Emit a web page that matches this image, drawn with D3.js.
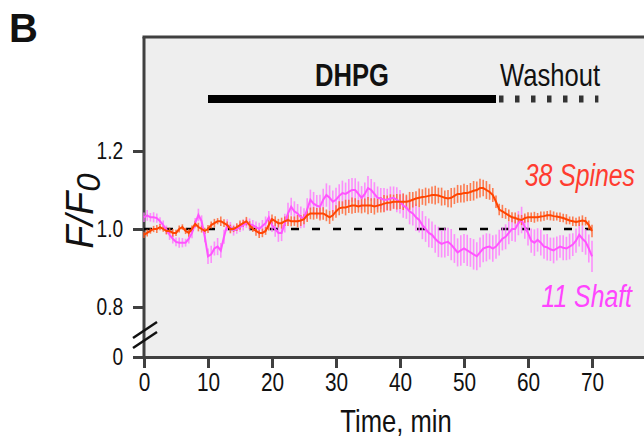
<!DOCTYPE html>
<html>
<head>
<meta charset="utf-8">
<script src="https://cdn.jsdelivr.net/npm/d3@7"></script>
<style>
  body { margin: 0; background: #fff; }
  svg { display: block; }
  text { font-family: "Liberation Sans Narrow", "Liberation Sans", Arial, sans-serif; fill: #111; }
</style>
</head>
<body>
<svg width="644" height="448"></svg>
<script>
// sampling interval of the recordings, minutes
var step = 0.5;

// mean F/F0, 38 spines (0 .. 70 min, every 0.5 min)
var spines = [0.985,
  0.99,0.995, 1.0,1.0, 1.005,1.0, 0.995,0.995, 0.99,0.99, 1.0,1.005, 0.995,0.99, 1.0,1.013, 1.005,1.0, 0.995,1.0,
  1.01,1.015, 1.02,1.02, 1.015,1.01, 1.0,1.0, 1.005,1.01, 1.015,1.02, 1.01,1.0, 0.995,0.99, 0.99,0.995, 1.01,1.025,
  1.02,1.015, 1.015,1.02, 1.023,1.02, 1.02,1.02, 1.022,1.025, 1.035,1.04, 1.04,1.04, 1.04,1.04, 1.035,1.03, 1.035,1.045,
  1.053,1.055, 1.055,1.058, 1.06,1.06, 1.058,1.06, 1.06,1.06, 1.06,1.058, 1.06,1.062, 1.065,1.067, 1.068,1.07, 1.07,1.07,
  1.07,1.07, 1.072,1.075, 1.078,1.08, 1.082,1.083, 1.085,1.087, 1.087,1.086, 1.083,1.08, 1.078,1.08, 1.085,1.09, 1.09,1.092,
  1.092,1.095, 1.098,1.1, 1.105,1.105, 1.1,1.095, 1.087,1.07, 1.05,1.045, 1.04,1.035, 1.03,1.028, 1.025,1.023, 1.028,1.03,
  1.03,1.03, 1.03,1.032, 1.033,1.035, 1.035,1.033, 1.032,1.03, 1.028,1.025, 1.022,1.02, 1.018,1.02, 1.022,1.02, 1.01,0.995];

var spinesSem = [0.008,
  0.009,0.007,0.008,0.01,0.008,0.007,0.009,0.008,0.01,0.008,0.009,0.007,0.008,0.01,0.009,0.008,0.011,0.009,0.008,0.01,
  0.009,0.011,0.008,0.012,0.01,0.009,0.011,0.008,0.01,0.012,0.009,0.011,0.01,0.008,0.012,0.013,0.011,0.01,0.014,0.012,
  0.013,0.011,0.014,0.012,0.015,0.013,0.012,0.016,0.014,0.013,0.017,0.015,0.016,0.014,0.018,0.016,0.015,0.017,0.014,0.016,
  0.018,0.016,0.02,0.017,0.021,0.019,0.016,0.02,0.018,0.022,0.019,0.021,0.018,0.02,0.022,0.019,0.021,0.018,0.02,0.019,
  0.021,0.018,0.023,0.02,0.019,0.024,0.02,0.023,0.019,0.022,0.024,0.02,0.023,0.019,0.022,0.025,0.021,0.023,0.022,0.024,
  0.021,0.023,0.025,0.022,0.024,0.021,0.023,0.02,0.018,0.016,0.015,0.017,0.014,0.015,0.013,0.014,0.012,0.013,0.012,0.013,
  0.012,0.014,0.011,0.013,0.012,0.011,0.013,0.012,0.01,0.012,0.011,0.013,0.01,0.012,0.011,0.012,0.013,0.011,0.012,0.016];

// mean F/F0, 11 shaft regions
var shaft = [1.03,
  1.035,1.03, 1.03,1.028, 1.02,1.01, 0.998,0.985, 0.975,0.967, 0.965,0.965, 0.965,0.975, 0.99,1.015, 1.036,1.02, 0.98,0.93,
  0.935,0.95, 0.955,0.945, 0.98,1.01, 1.005,0.997, 1.0,1.005, 1.01,1.015, 1.012,1.01, 1.005,1.0, 1.008,1.015, 1.03,1.01,
  1.0,0.99, 0.99,1.015, 1.04,1.057, 1.045,1.04, 1.03,1.028, 1.05,1.075, 1.065,1.06, 1.057,1.075, 1.087,1.08, 1.07,1.075,
  1.085,1.092, 1.09,1.095, 1.1,1.1, 1.09,1.08, 1.09,1.105, 1.1,1.09, 1.08,1.078, 1.075,1.075, 1.078,1.08, 1.075,1.07,
  1.06,1.055, 1.045,1.04, 1.03,1.023, 1.01,1.0, 0.99,0.985, 0.975,0.967, 0.962,0.965, 0.967,0.96, 0.95,0.94, 0.945,0.95,
  0.945,0.94, 0.935,0.93, 0.94,0.95, 0.953,0.955, 0.95,0.955, 0.965,0.975, 0.98,0.99, 1.0,1.0, 1.015,1.023, 1.005,0.99,
  0.97,0.965, 0.972,0.965, 0.955,0.953, 0.948,0.945, 0.95,0.955, 0.952,0.95, 0.955,0.96, 0.97,0.985, 0.975,0.967, 0.95,0.93];

var shaftSem = [0.012,
  0.014,0.011,0.013,0.012,0.01,0.012,0.011,0.013,0.012,0.011,0.013,0.012,0.01,0.012,0.014,0.013,0.016,0.015,0.014,0.02,
  0.022,0.018,0.022,0.019,0.018,0.015,0.013,0.014,0.012,0.013,0.014,0.012,0.015,0.013,0.014,0.016,0.015,0.017,0.016,0.018,
  0.02,0.023,0.021,0.024,0.027,0.023,0.026,0.024,0.028,0.025,0.029,0.026,0.03,0.027,0.031,0.028,0.03,0.032,0.029,0.031,
  0.03,0.032,0.029,0.033,0.031,0.03,0.032,0.03,0.029,0.031,0.028,0.03,0.029,0.027,0.03,0.028,0.031,0.029,0.032,0.03,
  0.031,0.029,0.033,0.031,0.035,0.032,0.036,0.033,0.037,0.034,0.036,0.039,0.035,0.038,0.036,0.04,0.037,0.036,0.039,0.037,
  0.04,0.037,0.039,0.036,0.038,0.035,0.036,0.033,0.034,0.031,0.033,0.03,0.032,0.029,0.031,0.033,0.031,0.034,0.03,0.032,
  0.031,0.034,0.03,0.033,0.031,0.034,0.03,0.033,0.031,0.029,0.032,0.03,0.033,0.029,0.031,0.03,0.034,0.033,0.036,0.04];

var xTicks = [0, 10, 20, 30, 40, 50, 60, 70];
var yTicks = [0, 0.8, 1.0, 1.2];
var dhpgPeriod = [10, 55];
var washoutPeriod = [55, 71];
var baseline = 1.0;

var svg = d3.select("svg");
var plotTop = 37, plotBottom = 357, plotLeft = 144;
var narrow = 0.8; // the original lettering is a condensed face

var x = d3.scaleLinear().domain([0, 80]).range([144, 656]);
// broken axis: 0 sits just below 0.8
var y = d3.scaleLinear().domain([0, 0.8, 1.2]).range([357, 307, 151]);

function toPoints(means, sems) {
  return means.map(function(m, i) { return { t: i * step, m: m, s: sems[i] }; });
}
var spinePts = toPoints(spines, spinesSem);
var shaftPts = toPoints(shaft, shaftSem);

// text squeezed horizontally around its anchor point
function label(px, py, str, anchor) {
  return svg.append("g")
    .attr("transform", "translate(" + px + "," + py + ") scale(" + narrow + ",1)")
    .append("text").attr("text-anchor", anchor || "start").text(str);
}

// grey plot area
svg.append("rect")
   .attr("x", plotLeft).attr("y", plotTop)
   .attr("width", x(80) - plotLeft).attr("height", plotBottom - plotTop)
   .attr("fill", "#eeeeee");

// panel letter
svg.append("text").attr("x", 9).attr("y", 42)
   .style("font-weight", "bold").style("font-size", "40px").text("B");

// frame: top and left
svg.append("line").attr("x1", plotLeft - 1.5).attr("x2", 660)
   .attr("y1", plotTop).attr("y2", plotTop)
   .attr("stroke", "#404040").attr("stroke-width", 3);
svg.append("line").attr("x1", plotLeft).attr("x2", plotLeft)
   .attr("y1", plotTop).attr("y2", plotBottom)
   .attr("stroke", "#404040").attr("stroke-width", 3);

// x axis
var xAxis = svg.append("g")
   .attr("transform", "translate(0," + plotBottom + ")")
   .call(d3.axisBottom(x).tickValues(xTicks).tickSize(11).tickSizeOuter(0).tickPadding(5));
xAxis.select(".domain").attr("stroke", "#404040").attr("stroke-width", 3);
xAxis.selectAll(".tick line").attr("stroke", "#404040").attr("stroke-width", 3);
xAxis.selectAll(".tick text").style("font-size", "26px").attr("fill", "#111")
     .attr("transform", "scale(" + narrow + ",1)");

// y axis
var yAxis = svg.append("g")
   .attr("transform", "translate(" + plotLeft + ",0)")
   .call(d3.axisLeft(y).tickValues(yTicks).tickSize(11).tickPadding(15)
           .tickFormat(function(d) { return d === 0 ? "0" : d3.format(".1f")(d); }));
yAxis.select(".domain").remove();
yAxis.selectAll(".tick line").attr("stroke", "#404040").attr("stroke-width", 3);
yAxis.selectAll(".tick text").style("font-size", "24px").attr("fill", "#111")
     .attr("transform", "scale(" + narrow + ",1)");

// axis break marks
var yBreak = y(0) - 22;
[-5, 5].forEach(function(off) {
  svg.append("line")
     .attr("x1", plotLeft - 11).attr("y1", yBreak + off + 8)
     .attr("x2", plotLeft + 13).attr("y2", yBreak + off - 8)
     .attr("stroke", "#111").attr("stroke-width", 2.5);
});

// axis titles
label(396, 432, "Time, min", "middle").style("font-size", "32px");

var yTitle = svg.append("text")
   .attr("transform", "translate(93,211) rotate(-90)")
   .attr("text-anchor", "middle")
   .style("font-style", "italic").style("font-size", "38px");
yTitle.append("tspan").text("F/F");
yTitle.append("tspan").attr("dy", 7).style("font-size", "33px").text("0");

// dashed baseline at 1.0
svg.append("line")
   .attr("x1", x(0)).attr("x2", x(70))
   .attr("y1", y(baseline)).attr("y2", y(baseline))
   .attr("stroke", "#000").attr("stroke-width", 2.5)
   .attr("stroke-dasharray", "8,13");

// treatment bars
svg.append("line")
   .attr("x1", x(dhpgPeriod[0])).attr("x2", x(dhpgPeriod[1]))
   .attr("y1", 99).attr("y2", 99)
   .attr("stroke", "#000").attr("stroke-width", 8);
svg.append("line")
   .attr("x1", x(washoutPeriod[0]) + 3).attr("x2", x(washoutPeriod[1]))
   .attr("y1", 99).attr("y2", 99)
   .attr("stroke", "#333").attr("stroke-width", 7)
   .attr("stroke-dasharray", "4.5,11.5");

label(352, 86, "DHPG", "middle").style("font-weight", "bold").style("font-size", "32px");
label(550, 86, "Washout", "middle").style("font-size", "32px");

// traces
var line = d3.line().x(function(d) { return x(d.t); }).y(function(d) { return y(d.m); });

function errorBars(pts, color) {
  svg.append("g").selectAll("line")
     .data(pts).enter().append("line")
     .attr("x1", function(d) { return x(d.t); })
     .attr("x2", function(d) { return x(d.t); })
     .attr("y1", function(d) { return y(d.m - d.s); })
     .attr("y2", function(d) { return y(d.m + d.s); })
     .attr("stroke", color).attr("stroke-width", 1.6).attr("stroke-opacity", 0.8);
}

errorBars(shaftPts, "#ff77ff");
errorBars(spinePts, "#ff5f2a");

svg.append("path").datum(shaftPts)
   .attr("d", line).attr("fill", "none")
   .attr("stroke", "#ff55ff").attr("stroke-width", 2);
svg.append("path").datum(spinePts)
   .attr("d", line).attr("fill", "none")
   .attr("stroke", "#ff4500").attr("stroke-width", 2);

// series labels
label(635, 186, "38 Spines", "end")
   .style("font-style", "italic").style("font-size", "31px").style("fill", "#ff3c30");
label(632, 307, "11 Shaft", "end")
   .style("font-style", "italic").style("font-size", "31px").style("fill", "#ff44ff");
</script>
</body>
</html>
